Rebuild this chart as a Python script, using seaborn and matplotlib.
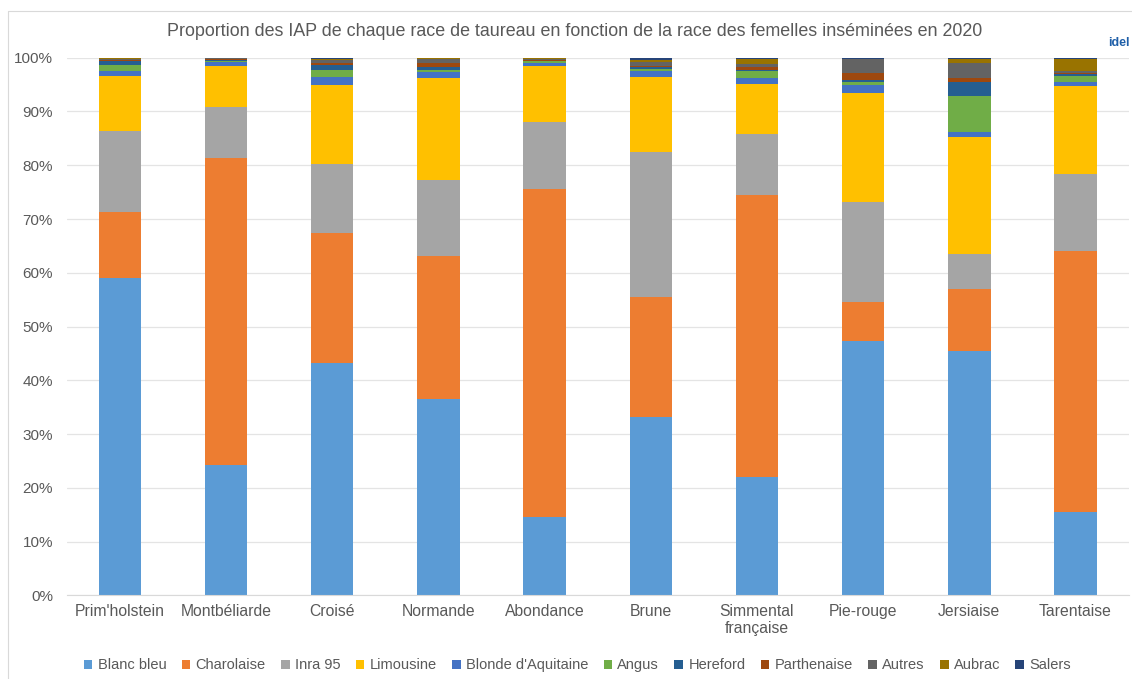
import matplotlib
matplotlib.use("Agg")
import matplotlib.pyplot as plt
import matplotlib.lines as mlines
import pandas as pd
import seaborn as sns
from matplotlib.patches import Patch

# categories (female breeds)
femelles = ["Prim'holstein", "Montbéliarde", "Croisé", "Normande", "Abondance",
            "Brune", "Simmental\nfrançaise", "Pie-rouge", "Jersiaise", "Tarentaise"]

# bull breeds, % of IAP
blanc_bleu  = [59.1, 24.3, 43.2, 36.6, 14.6, 33.2, 22.1, 47.3, 45.4, 15.5]
charolaise  = [12.2, 57.0, 24.2, 26.5, 61.0, 22.3, 52.3,  7.3, 11.6, 48.5]
inra_95     = [15.0,  9.6, 12.9, 14.2, 12.4, 27.0, 11.5, 18.5,  6.5, 14.4]
limousine   = [10.3,  7.5, 14.7, 18.9, 10.5, 13.9,  9.2, 20.4, 21.8, 16.3]
blonde      = [ 0.9,  0.8,  1.4,  1.2,  0.5,  1.1,  1.2,  1.5,  0.9,  0.8]
angus       = [ 1.1,  0.2,  1.3,  0.3,  0.3,  0.4,  1.2,  0.4,  6.7,  1.1]
hereford    = [ 0.7,  0.1,  0.9,  0.5,  0.1,  0.3,  0.3,  0.4,  2.6,  0.3]
parthenaise = [ 0.3,  0.2,  0.5,  0.8,  0.1,  0.3,  0.5,  1.4,  0.8,  0.2]
autres      = [ 0.2,  0.2,  0.4,  0.8,  0.2,  0.7,  0.6,  2.5,  2.7,  0.4]
aubrac      = [ 0.1,  0.1,  0.3,  0.1,  0.2,  0.4,  0.8,  0.1,  0.8,  2.2]
salers      = [ 0.1,  0.0,  0.2,  0.1,  0.1,  0.4,  0.3,  0.2,  0.2,  0.3]

races = ["Blanc bleu", "Charolaise", "Inra 95", "Limousine", "Blonde d'Aquitaine",
         "Angus", "Hereford", "Parthenaise", "Autres", "Aubrac", "Salers"]
couleurs = ["#5B9BD5", "#ED7D31", "#A5A5A5", "#FFC000", "#4472C4", "#70AD47",
            "#255E91", "#9E480E", "#636363", "#997300", "#264478"]

df = pd.DataFrame({"Blanc bleu": blanc_bleu, "Charolaise": charolaise, "Inra 95": inra_95,
                   "Limousine": limousine, "Blonde d'Aquitaine": blonde, "Angus": angus,
                   "Hereford": hereford, "Parthenaise": parthenaise, "Autres": autres,
                   "Aubrac": aubrac, "Salers": salers}, index=femelles)
# normalise so each bar is 100 %
df = df.div(df.sum(axis=1), axis=0)

sns.set_style("white")
plt.rcParams['font.family'] = ['Liberation Sans', 'DejaVu Sans']

fig = plt.figure(figsize=(11.32, 6.79), dpi=100)
ax = fig.add_axes([0.059, 0.123, 0.938, 0.792])

bottom = pd.Series(0.0, index=femelles)
for race, c in zip(races, couleurs):
    sns.barplot(x=femelles, y=df[race].values, bottom=bottom.values, color=c,
                width=0.4, linewidth=0, ax=ax, saturation=1)
    bottom = bottom + df[race]

ax.set_ylim(0, 1)
ax.set_xlim(-0.5, 9.5)
ax.set_yticks([i / 10 for i in range(11)])
ax.set_yticklabels([f"{i*10}%" for i in range(11)])
ax.yaxis.grid(True, color="#E4E4E4", linewidth=0.9)
ax.set_axisbelow(True)
for s in ["top", "right", "left"]:
    ax.spines[s].set_visible(False)
ax.spines["bottom"].set_color("#D9D9D9")
ax.tick_params(axis="both", length=0, colors="#595959", labelsize=11)
ax.tick_params(axis="x", labelsize=11.3, pad=6)
ax.tick_params(axis="y", pad=10)
ax.set_xlabel("")
ax.set_ylabel("")

fig.text(0.508, 0.953, "Proportion des IAP de chaque race de taureau en fonction de la race des femelles inséminées en 2020",
         ha="center", va="center", fontsize=12.9, color="#595959")

handles = [Patch(facecolor=c, edgecolor="none") for c in couleurs]
fig.legend(handles, races, loc="center", bbox_to_anchor=(0.51, 0.02), ncol=11, frameon=False,
           fontsize=10.5, handlelength=0.6, handleheight=0.6, handletextpad=0.35,
           columnspacing=1.05, labelcolor="#595959")

# chart border (left and top)
fig.add_artist(mlines.Line2D([8 / 1132, 8 / 1132], [0, 1 - 11 / 679], color="#D9D9D9", lw=0.8))
fig.add_artist(mlines.Line2D([8 / 1132, 1], [1 - 11 / 679, 1 - 11 / 679], color="#D9D9D9", lw=0.8))

# logo stand-in
fig.text(0.998, 0.937, "idel", ha="right", va="center", fontsize=9, fontweight="bold", color="#1F5FA8")

fig.savefig("out.png", dpi=100)
